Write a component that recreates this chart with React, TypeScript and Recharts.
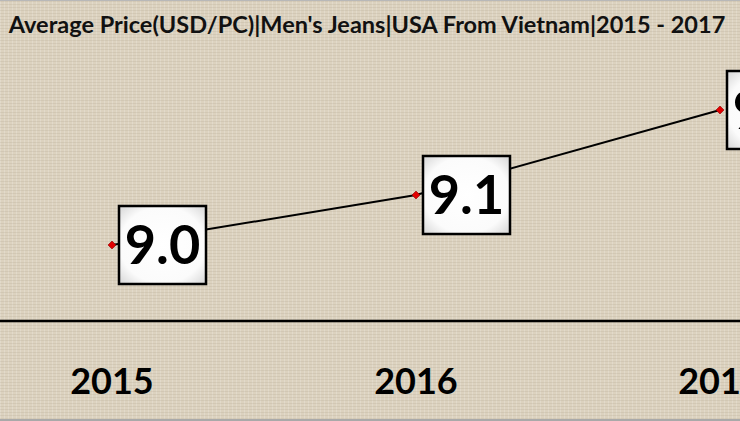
import { LineChart, Line, XAxis, YAxis, LabelList } from 'recharts'

const years = ['2015', '2016', '2017']
const avgPrice = [9.0, 9.1, 9.27]
const title = "Average Price(USD/PC)|Men's Jeans|USA From Vietnam|2015 - 2017"

const data = years.map((year, i) => ({ year, price: avgPrice[i] }))

const FONT = 'Lato, "Open Sans", sans-serif'

function Diamond(props: any) {
  const { cx, cy } = props
  if (cx == null || cy == null) return null
  const r = 4
  return (
    <path
      d={`M${cx},${cy - r} L${cx + r},${cy} L${cx},${cy + r} L${cx - r},${cy} Z`}
      fill="#e00000"
      stroke="#900000"
      strokeWidth={0.6}
    />
  )
}

function ValueBox(props: any) {
  const { x, y, value } = props
  if (x == null || y == null) return null
  const w = 87
  const h = 78
  const bx = x + 7
  const by = y - h / 2
  return (
    <g>
      <rect x={bx} y={by} width={w} height={h} fill="url(#boxFill)" stroke="#000" strokeWidth={2.5} />
      <text
        x={bx + w / 2}
        y={by + h / 2 + 19}
        textAnchor="middle"
        fontFamily={FONT}
        fontWeight={700}
        fontSize={54}
        fill="#000"
      >
        {Number(value).toFixed(1)}
      </text>
    </g>
  )
}

function YearTick(props: any) {
  const { x, y, payload } = props
  return (
    <text x={x} y={y + 65} textAnchor="middle" fontFamily={FONT} fontWeight={700} fontSize={36} fill="#000">
      {payload.value}
    </text>
  )
}

export default function App() {
  return (
    <div
      style={{
        position: 'absolute',
        left: 0,
        top: 0,
        width: 740,
        height: 421,
        overflow: 'hidden',
        backgroundColor: '#dcd2bf',
        backgroundImage:
          'repeating-linear-gradient(0deg, rgba(120,105,80,0.10) 0px, rgba(120,105,80,0.10) 1px, transparent 1px, transparent 3px), repeating-linear-gradient(90deg, rgba(255,255,255,0.18) 0px, rgba(255,255,255,0.18) 1px, transparent 1px, transparent 4px)',
        borderTop: '1px solid #b8b8b8',
        borderBottom: '2px solid #a9a9a9',
        boxSizing: 'border-box',
      }}
    >
      <div
        style={{
          position: 'absolute',
          left: 0,
          top: 9,
          width: 734,
          textAlign: 'center',
          fontFamily: FONT,
          fontSize: 23.5,
          fontWeight: 700,
          color: '#111',
          whiteSpace: 'nowrap',
        }}
      >
        {title}
      </div>
      <div style={{ position: 'absolute', left: 0, top: 0 }}>
        <LineChart width={1040} height={421} data={data} margin={{ top: 50, right: 0, bottom: 71, left: 0 }}>
          <defs>
            <radialGradient id="boxFill" cx="50%" cy="50%" r="70%">
              <stop offset="0%" stopColor="#ffffff" />
              <stop offset="70%" stopColor="#fbfbfb" />
              <stop offset="100%" stopColor="#d6d6d6" />
            </radialGradient>
          </defs>
          <XAxis
            dataKey="year"
            padding={{ left: 112, right: 320 }}
            axisLine={{ stroke: '#000', strokeWidth: 2.5 }}
            tickLine={false}
            tick={<YearTick />}
            interval={0}
          />
          <YAxis hide domain={[8.848, 9.388]} />
          <Line
            type="linear"
            dataKey="price"
            stroke="#000"
            strokeWidth={2}
            dot={<Diamond />}
            activeDot={false}
            isAnimationActive={false}
          >
            <LabelList dataKey="price" content={<ValueBox />} />
          </Line>
        </LineChart>
      </div>
    </div>
  )
}
